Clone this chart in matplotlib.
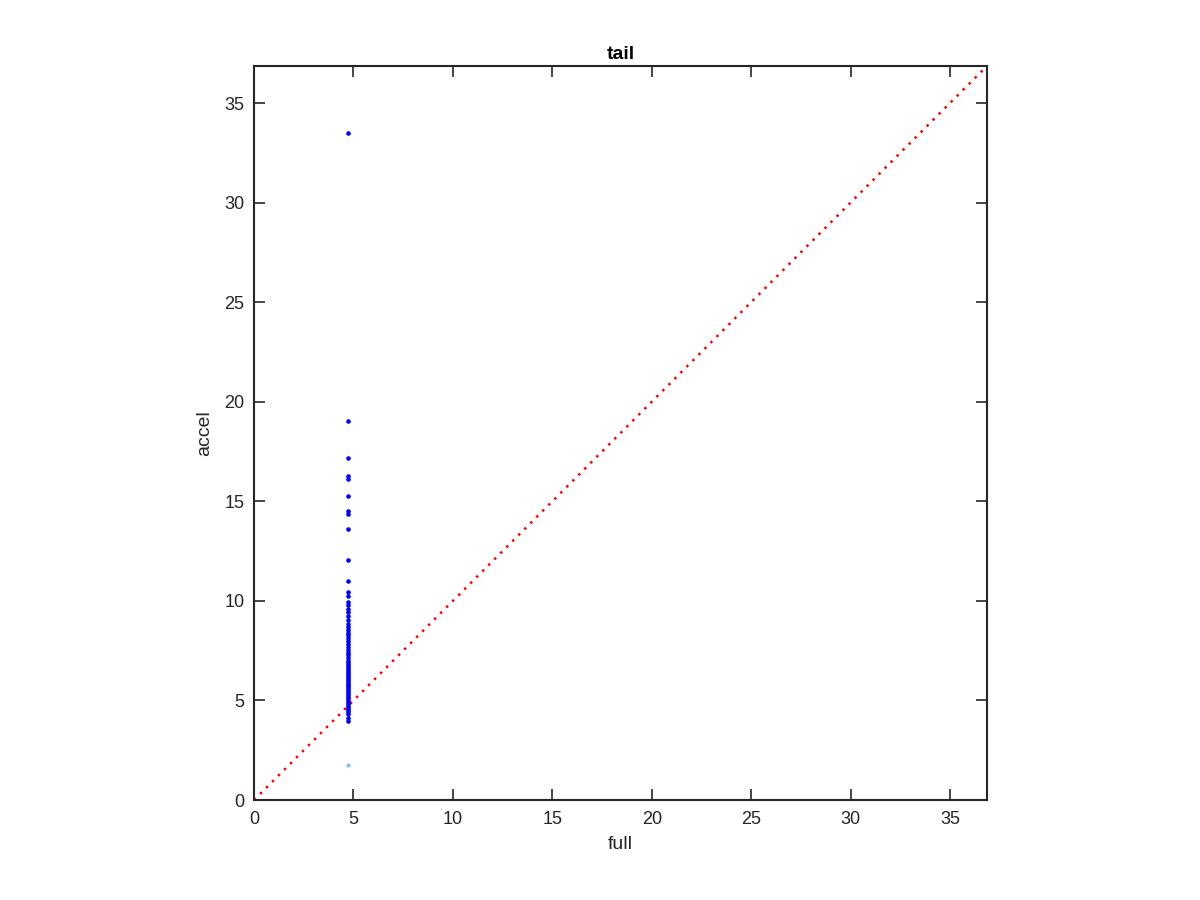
import numpy as np
import matplotlib.pyplot as plt

plt.rcParams["font.family"] = ["Liberation Sans", "DejaVu Sans"]

# full-model value is the same for every sample
full_x = 4.73
accel_vals = [
    33.5, 19.05, 17.15, 16.25, 16.12, 15.25, 14.5, 14.38, 13.62, 12.05,
    11.02, 10.45, 10.22, 9.95, 9.8, 9.6, 9.45, 9.25, 9.05, 8.85, 8.7,
    8.55, 8.4, 8.3, 8.15, 8.0, 7.85, 7.7, 7.55, 7.4, 7.3, 7.15, 7.0,
    6.9, 6.8, 6.7, 6.6, 6.5, 6.4, 6.3, 6.2, 6.1, 6.0, 5.9, 5.8, 5.7,
    5.6, 5.5, 5.4, 5.3, 5.2, 5.1, 5.0, 4.9, 4.8, 4.7, 4.6, 4.5, 4.4,
    4.3, 4.1, 3.95,
]
outlier_x = [4.73]
outlier_y = [1.76]
lim = 36.86

fig = plt.figure(figsize=(12, 9), dpi=100)
ax = fig.add_axes([0.2117, 0.1111, 0.6108, 0.8156])

ax.plot([0, lim], [0, lim], linestyle=(0, (1, 2.4)), color="red", linewidth=1.8)
ax.plot([full_x] * len(accel_vals), accel_vals, "o", color="#0000ff",
        markersize=3.3, markeredgewidth=0)
ax.plot(outlier_x, outlier_y, "o", color="#7fbfff", markersize=3.0,
        markeredgewidth=0)

ax.set_xlim(0, lim)
ax.set_ylim(0, lim)
ax.set_xticks(np.arange(0, 36, 5))
ax.set_yticks(np.arange(0, 36, 5))
ax.tick_params(direction="in", length=8, width=1.2, top=True, right=True,
               labelsize=13, colors="#262626", pad=8)
ax.tick_params(axis="y", pad=7)
for s in ax.spines.values():
    s.set_linewidth(1.5)
    s.set_color("#262626")

ax.set_xlabel("full", fontsize=14, color="#262626", labelpad=6)
ax.set_ylabel("accel", fontsize=14, color="#262626", labelpad=8)
ax.set_title("tail", fontsize=14, fontweight="bold", pad=5)

fig.savefig("out.png", dpi=100)
